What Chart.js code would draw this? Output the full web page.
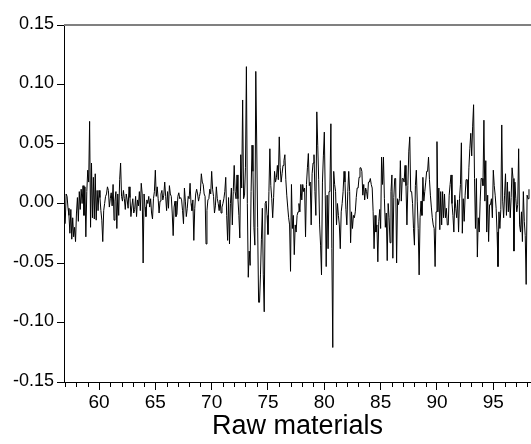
<!DOCTYPE html>
<html>
<head>
<meta charset="utf-8">
<script src="https://cdn.jsdelivr.net/npm/chart.js@4/dist/chart.umd.min.js"></script>
<style>
  html, body { margin: 0; padding: 0; background: #ffffff; }
  #wrap { width: 531px; height: 444px; }
</style>
</head>
<body>
<div id="wrap"><canvas id="c" width="531" height="444"></canvas></div>
<script>
// Monthly returns, raw materials, 1957M01 - 1998M03 (year axis shown as two digits)
const startYear = 57;
const ret1957to1966 = [
  -0.017, 0.008, 0.006, -0.004, -0.010, -0.025, -0.005, -0.030, -0.012, -0.028, -0.020, -0.032,
  -0.008, 0.005, -0.015, 0.010, -0.005, 0.012, 0.000, 0.015, -0.010, 0.014, -0.028, 0.010,
  0.028, 0.018, 0.069, -0.020, 0.034, -0.012, 0.022, -0.013, 0.025, -0.014, 0.011, -0.006,
  0.011, 0.005, -0.006, -0.014, -0.032, -0.006, 0.000, 0.006, 0.008, 0.014, 0.011, -0.003,
  0.004, 0.009, -0.002, 0.016, -0.014, 0.002, 0.010, -0.021, 0.008, -0.010, 0.020, 0.034,
  0.006, 0.002, 0.011, 0.004, -0.005, 0.008, 0.003, -0.004, 0.014, 0.005, -0.011, -0.002,
  0.004, -0.008, -0.005, 0.006, -0.011, 0.003, -0.002, 0.010, -0.006, 0.017, 0.008, -0.050,
  0.008, -0.003, -0.011, 0.003, 0.000, 0.006, -0.003, 0.004, -0.008, -0.013, 0.004, 0.010,
  0.028, 0.006, 0.014, 0.004, -0.008, 0.002, 0.008, 0.011, 0.003, 0.007, 0.018, 0.006,
  -0.006, 0.010, -0.004, 0.015, 0.008, 0.006, -0.008, -0.027, -0.003, 0.002, -0.011, -0.009
];
const ret1967to1976 = [
  0.006, 0.009, 0.004, 0.005, 0.003, -0.006, -0.017, 0.013, 0.002, -0.011, -0.004, 0.006,
  0.004, 0.017, 0.000, -0.006, 0.003, -0.031, -0.004, 0.008, 0.012, 0.008, 0.002, 0.006,
  0.010, 0.025, 0.018, 0.016, 0.008, 0.006, -0.034, -0.006, 0.003, 0.004, 0.012, 0.008,
  0.027, 0.012, 0.006, -0.008, -0.002, 0.014, 0.004, 0.000, -0.006, 0.003, -0.008, -0.003,
  0.000, 0.004, 0.010, 0.022, -0.010, -0.031, 0.005, -0.034, 0.000, 0.013, -0.018, 0.010,
  0.032, 0.010, 0.004, 0.024, 0.004, -0.010, -0.029, 0.041, 0.013, 0.087, 0.004, 0.007,
  0.030, 0.115, 0.000, -0.062, -0.040, -0.052, 0.010, 0.049, 0.027, -0.020, -0.035, 0.111,
  0.050, -0.020, -0.083, -0.083, -0.060, -0.030, -0.004, -0.060, -0.091, 0.000, 0.002, -0.010,
  -0.026, 0.010, 0.046, 0.015, 0.004, -0.012, 0.005, 0.027, 0.018, 0.022, 0.032, 0.020,
  0.056, 0.030, 0.018, 0.025, 0.032, 0.036, 0.041, 0.020, 0.007, -0.003, -0.012, -0.018
];
const ret1977to1986 = [
  -0.057, 0.016, -0.021, -0.010, -0.043, -0.018, -0.024, -0.010, -0.007, 0.000, -0.007, 0.016,
  0.003, 0.016, 0.010, 0.013, -0.028, 0.016, 0.030, 0.042, 0.015, 0.018, -0.018, 0.025,
  0.034, 0.041, 0.010, -0.010, 0.077, 0.049, 0.020, -0.018, -0.035, -0.060, 0.018, 0.040,
  0.060, 0.007, -0.053, 0.007, -0.038, 0.010, 0.013, 0.067, -0.038, -0.121, 0.027, 0.016,
  0.010, -0.018, 0.000, -0.010, -0.018, -0.038, -0.007, 0.000, 0.010, 0.027, 0.018, -0.005,
  -0.018, 0.010, 0.027, 0.010, -0.033, -0.007, -0.021, -0.010, -0.012, -0.007, 0.005, 0.013,
  0.013, 0.022, 0.030, 0.030, 0.027, 0.007, 0.016, 0.003, 0.013, 0.010, 0.004, 0.018,
  0.018, 0.021, 0.016, 0.013, -0.007, -0.038, -0.010, -0.024, -0.018, -0.049, -0.015, -0.005,
  -0.021, 0.039, 0.016, 0.039, 0.004, -0.020, -0.008, -0.048, 0.000, -0.012, -0.033, 0.010,
  0.024, -0.046, 0.005, 0.021, 0.021, -0.050, 0.004, -0.001, 0.004, 0.036, 0.002, 0.021
];
const ret1987to1998 = [
  0.021, 0.018, 0.032, 0.015, -0.018, 0.015, 0.044, 0.056, 0.010, 0.010, 0.000, -0.021,
  -0.035, 0.015, 0.028, 0.002, -0.021, -0.060, -0.012, 0.002, -0.010, 0.022, 0.002, 0.010,
  0.018, 0.027, 0.027, 0.039, 0.020, 0.007, -0.003, -0.012, -0.018, -0.021, -0.053, -0.007,
  0.052, -0.007, 0.013, -0.022, 0.010, -0.018, 0.010, -0.012, 0.008, -0.012, -0.004, -0.018,
  -0.018, 0.007, 0.016, 0.024, 0.000, -0.010, -0.024, 0.007, -0.004, -0.012, 0.003, -0.024,
  0.004, 0.016, 0.051, -0.025, 0.004, -0.015, 0.007, 0.020, 0.020, 0.004, 0.030, 0.046,
  0.059, 0.040, 0.065, 0.083, 0.021, -0.021, 0.021, -0.045, -0.012, -0.024, 0.002, 0.021,
  0.021, 0.015, 0.070, 0.002, 0.036, -0.024, 0.007, -0.032, -0.001, -0.001, 0.004, -0.012,
  0.028, 0.015, 0.007, -0.004, -0.024, -0.053, -0.007, -0.021, -0.005, 0.066, 0.002, -0.012,
  0.007, 0.025, -0.010, 0.018, -0.007, 0.010, -0.012, 0.005, 0.030, 0.021, -0.040, 0.018,
  0.004, -0.007, -0.001, 0.046, -0.018, -0.024, -0.007, -0.032, 0.010, -0.015, -0.027, -0.068,
  0.007, 0.004, 0.012
];
const xTickValues = [60, 65, 70, 75, 80, 85, 90, 95];
const yTickValues = [-0.15, -0.10, -0.05, 0.00, 0.05, 0.10, 0.15];
const titleText = 'Raw materials';

const values = [].concat(ret1957to1966, ret1967to1976, ret1977to1986, ret1987to1998);
const points = values.map((v, i) => ({ x: startYear + i / 12, y: v }));

const FONT = "'Liberation Sans', Arial, sans-serif";

const extras = {
  id: 'extras',
  afterDraw(chart) {
    const ctx = chart.ctx;
    const area = chart.chartArea;
    const xs = chart.scales.x;
    ctx.save();
    // top frame line
    ctx.strokeStyle = '#808080';
    ctx.lineWidth = 2;
    ctx.beginPath();
    ctx.moveTo(area.left, area.top);
    ctx.lineTo(area.right, area.top);
    ctx.stroke();
    // minor yearly ticks
    ctx.strokeStyle = '#000000';
    ctx.lineWidth = 1;
    ctx.beginPath();
    for (let yr = Math.ceil(xs.min); yr <= Math.floor(xs.max); yr++) {
      if (yr % 5 === 0) continue;
      const px = Math.round(xs.getPixelForValue(yr)) + 0.5;
      ctx.moveTo(px, area.bottom);
      ctx.lineTo(px, area.bottom + 5);
    }
    ctx.stroke();
    ctx.restore();
  }
};

new Chart(document.getElementById('c'), {
  type: 'line',
  data: {
    datasets: [{
      data: points,
      borderColor: '#000000',
      borderWidth: 1,
      pointRadius: 0,
      tension: 0,
      fill: false
    }]
  },
  options: {
    responsive: false,
    animation: false,
    devicePixelRatio: 1,
    layout: { padding: { left: 0, right: 0, top: 25, bottom: 0 } },
    plugins: { legend: { display: false }, tooltip: { enabled: false } },
    scales: {
      x: {
        type: 'linear',
        min: 56.893,
        max: 98.346,
        afterBuildTicks: (s) => { s.ticks = xTickValues.map(v => ({ value: v })); },
        afterFit: (s) => { s.height = 62; },
        grid: { display: true, drawOnChartArea: false, drawTicks: true, tickLength: 8, tickColor: '#000000', tickWidth: 1 },
        border: { display: true, color: '#000000', width: 1 },
        ticks: {
          autoSkip: false, maxRotation: 0, padding: 1, color: '#000000',
          font: { family: FONT, size: 19 },
          callback: (v) => String(v)
        },
        title: {
          display: true, text: titleText, color: '#000000',
          font: { family: FONT, size: 27 },
          padding: { top: 0, bottom: 1 }
        }
      },
      y: {
        type: 'linear',
        min: -0.15,
        max: 0.15,
        afterBuildTicks: (s) => { s.ticks = yTickValues.map(v => ({ value: v })); },
        afterFit: (s) => { s.width = 64; },
        grid: { display: true, drawOnChartArea: false, drawTicks: true, tickLength: 7, tickColor: '#000000', tickWidth: 1 },
        border: { display: true, color: '#000000', width: 1 },
        ticks: {
          autoSkip: false, padding: 3, color: '#000000', labelOffset: -1,
          font: { family: FONT, size: 18 },
          callback: (v) => Number(v).toFixed(2)
        }
      }
    }
  },
  plugins: [extras]
});
</script>
</body>
</html>
